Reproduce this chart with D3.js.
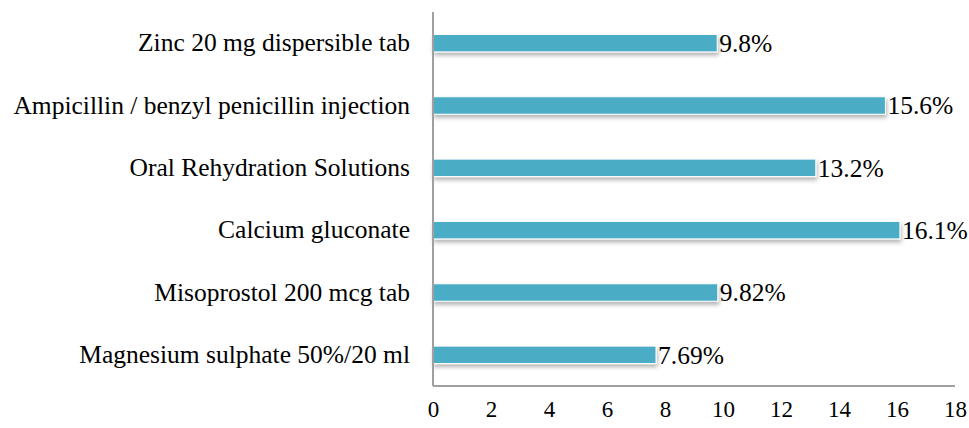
<!DOCTYPE html>
<html>
<head>
<meta charset="utf-8">
<script src="https://cdn.jsdelivr.net/npm/d3@7"></script>
<style>
  body { margin: 0; background: #fff; }
</style>
</head>
<body>
<div class="chart"></div>
<script>
  // chart values, top bar first
  var categories = [
    'Zinc 20 mg dispersible tab',
    'Ampicillin / benzyl penicillin injection',
    'Oral Rehydration Solutions',
    'Calcium gluconate',
    'Misoprostol 200 mcg tab',
    'Magnesium sulphate 50%/20 ml'
  ];
  var values = [9.8, 15.6, 13.2, 16.1, 9.82, 7.69];
  var valueLabels = ['9.8%', '15.6%', '13.2%', '16.1%', '9.82%', '7.69%'];
  var tickValues = [0, 2, 4, 6, 8, 10, 12, 14, 16, 18];

  var width = 969;
  var height = 428;
  var fontFamily = '"Liberation Serif", "Times New Roman", Times, serif';

  var svg = d3.select('.chart')
    .append('svg')
    .attr('width', width)
    .attr('height', height)
    .style('font-family', fontFamily);

  var defs = svg.append('defs');
  var shadow = defs.append('filter')
    .attr('id', 'shadow')
    .attr('x', '-5%').attr('y', '-30%')
    .attr('width', '110%').attr('height', '180%');
  shadow.append('feDropShadow')
    .attr('dx', 1).attr('dy', 3)
    .attr('stdDeviation', 2)
    .attr('flood-color', '#000')
    .attr('flood-opacity', 0.3);

  // plot area edges (top is a reserved window name, so avoid it)
  var plotLeft = 433, plotRight = 955, plotTop = 12, plotBottom = 386;

  var x = d3.scaleLinear().domain([0, 18]).range([plotLeft, plotRight]);
  var y = d3.scaleBand().domain(categories).range([plotTop, plotBottom]).paddingInner(0.72).paddingOuter(0.36);

  var rows = categories.map(function(c, i) {
    return { name: c, value: values[i], label: valueLabels[i] };
  });

  // bars
  svg.selectAll('.bar')
    .data(rows)
    .enter()
    .append('rect')
    .attr('class', 'bar')
    .attr('x', x(0))
    .attr('y', function(d) { return y(d.name); })
    .attr('width', function(d) { return x(d.value) - x(0); })
    .attr('height', y.bandwidth())
    .attr('fill', '#4BACC6')
    .attr('stroke', '#fff')
    .attr('stroke-width', 1)
    .attr('filter', 'url(#shadow)');

  // value labels
  svg.selectAll('.val')
    .data(rows)
    .enter()
    .append('text')
    .attr('class', 'val')
    .attr('x', function(d) { return x(d.value) + 2; })
    .attr('y', function(d) { return y(d.name) + y.bandwidth() / 2; })
    .attr('dy', '0.35em')
    .style('font-family', fontFamily)
    .style('font-size', '25.5px')
    .style('fill', '#000')
    .text(function(d) { return d.label; });

  // category labels
  var yAxis = d3.axisLeft(y).tickSize(0).tickPadding(23);
  var gy = svg.append('g')
    .attr('transform', 'translate(' + plotLeft + ',0)')
    .call(yAxis)
    .attr('font-family', null)
    .attr('font-size', null);
  gy.select('.domain').remove();
  gy.selectAll('text')
    .style('font-family', fontFamily)
    .style('font-size', '25.5px')
    .style('fill', '#000');

  // x axis labels
  var xAxis = d3.axisBottom(x).tickValues(tickValues).tickSize(0).tickPadding(15);
  var gx = svg.append('g')
    .attr('transform', 'translate(0,' + plotBottom + ')')
    .call(xAxis)
    .attr('font-family', null)
    .attr('font-size', null);
  gx.select('.domain').remove();
  gx.selectAll('text')
    .style('font-family', fontFamily)
    .style('font-size', '23px')
    .style('fill', '#000');

  // axis lines
  svg.append('line')
    .attr('x1', plotLeft).attr('x2', plotLeft)
    .attr('y1', plotTop).attr('y2', plotBottom)
    .attr('stroke', '#a0a0a0').attr('stroke-width', 2);
  svg.append('line')
    .attr('x1', plotLeft).attr('x2', plotRight)
    .attr('y1', plotBottom).attr('y2', plotBottom)
    .attr('stroke', '#a0a0a0').attr('stroke-width', 2);
</script>
</body>
</html>
